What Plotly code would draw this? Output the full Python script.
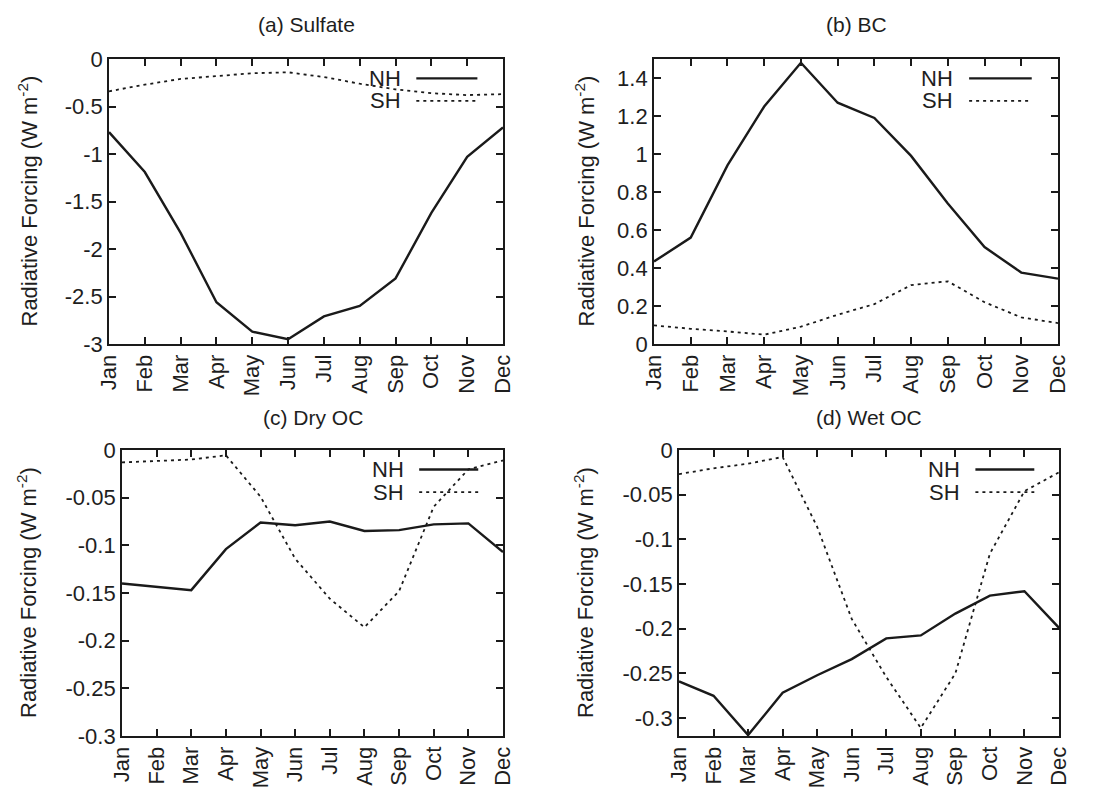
import plotly.graph_objects as go

months = ["Jan", "Feb", "Mar", "Apr", "May", "Jun", "Jul", "Aug", "Sep", "Oct", "Nov", "Dec"]

sulfate_nh = [-0.77, -1.19, -1.83, -2.56, -2.87, -2.95, -2.71, -2.60, -2.31, -1.62, -1.03, -0.72]
sulfate_sh = [-0.34, -0.27, -0.21, -0.18, -0.15, -0.14, -0.19, -0.26, -0.32, -0.36, -0.38, -0.37]

bc_nh = [0.434, 0.56, 0.94, 1.25, 1.48, 1.27, 1.19, 0.99, 0.74, 0.51, 0.376, 0.344]
bc_sh = [0.098, 0.08, 0.066, 0.049, 0.091, 0.154, 0.21, 0.31, 0.33, 0.22, 0.14, 0.11]

dryoc_nh = [-0.140, -0.1435, -0.147, -0.104, -0.076, -0.079, -0.075, -0.085, -0.084, -0.078, -0.077, -0.107]
dryoc_sh = [-0.013, -0.0115, -0.010, -0.0056, -0.049, -0.114, -0.156, -0.186, -0.148, -0.0595, -0.0203, -0.011]

wetoc_nh = [-0.259, -0.275, -0.319, -0.2716, -0.252, -0.234, -0.2108, -0.2075, -0.183, -0.163, -0.158, -0.199]
wetoc_sh = [-0.027, -0.0205, -0.0153, -0.0078, -0.086, -0.189, -0.254, -0.311, -0.250, -0.116, -0.046, -0.025]

titles = ["(a) Sulfate", "(b) BC", "(c) Dry OC", "(d) Wet OC"]

yticks_a = [0, -0.5, -1, -1.5, -2, -2.5, -3]
yticktext_a = ["0", "-0.5", "-1", "-1.5", "-2", "-2.5", "-3"]
yticks_b = [0, 0.2, 0.4, 0.6, 0.8, 1.0, 1.2, 1.4]
yticktext_b = ["0", "0.2", "0.4", "0.6", "0.8", "1", "1.2", "1.4"]
yticks_c = [0, -0.05, -0.1, -0.15, -0.2, -0.25, -0.3]
yticktext_c = ["0", "-0.05", "-0.1", "-0.15", "-0.2", "-0.25", "-0.3"]
yticks_d = [0, -0.05, -0.1, -0.15, -0.2, -0.25, -0.3]
yticktext_d = ["0", "-0.05", "-0.1", "-0.15", "-0.2", "-0.25", "-0.3"]

W, H = 1093, 787
FONT = "Liberation Sans, Arial, sans-serif"
FS = 21
TICK_FS = 22
TXT = "#1e1e1e"
SH_DASH = "3px,4px"

panels = [
    dict(nh=sulfate_nh, sh=sulfate_sh, yr=[-3, 0], tv=yticks_a, tt=yticktext_a,
         px=(109, 503), py=(59, 344), ytitle_x=27, title_y=25),
    dict(nh=bc_nh, sh=bc_sh, yr=[0, 1.5], tv=yticks_b, tt=yticktext_b,
         px=(654, 1058), py=(59, 344), ytitle_x=584, title_y=25),
    dict(nh=dryoc_nh, sh=dryoc_sh, yr=[-0.3, 0], tv=yticks_c, tt=yticktext_c,
         px=(122, 503), py=(450, 736), ytitle_x=27, title_y=417),
    dict(nh=wetoc_nh, sh=wetoc_sh, yr=[-0.32, 0], tv=yticks_d, tt=yticktext_d,
         px=(679, 1059), py=(450, 736), ytitle_x=584, title_y=417),
]

fig = go.Figure()
annotations = []
shapes = []
layout = {}

for i, p in enumerate(panels):
    n = "" if i == 0 else str(i + 1)
    xa, ya = "x" + n, "y" + n
    fig.add_trace(go.Scatter(x=months, y=p["nh"], mode="lines", xaxis=xa, yaxis=ya,
                             line=dict(color="#1a1a1a", width=2.4), showlegend=False))
    fig.add_trace(go.Scatter(x=months, y=p["sh"], mode="lines", xaxis=xa, yaxis=ya,
                             line=dict(color="#1a1a1a", width=1.8, dash=SH_DASH), showlegend=False))
    x0, x1 = p["px"]
    y0, y1 = p["py"]
    axis_common = dict(showline=True, linecolor="#1a1a1a", linewidth=1.8, mirror="allticks",
                       ticks="inside", ticklen=7, tickwidth=1.5, tickcolor="#1a1a1a",
                       showgrid=False, zeroline=False, automargin=False,
                       tickfont=dict(family=FONT, size=TICK_FS, color=TXT))
    layout["xaxis" + n] = dict(axis_common, domain=[x0 / W, x1 / W], anchor=ya,
                               type="category", range=[0, 11], tickangle=-90)
    layout["yaxis" + n] = dict(axis_common, domain=[1 - y1 / H, 1 - y0 / H], anchor=xa,
                               range=p["yr"], tickmode="array", tickvals=p["tv"], ticktext=p["tt"])
    # panel title
    annotations.append(dict(text=titles[i], xref=xa + " domain", x=0.5, yref="paper",
                            y=1 - p["title_y"] / H, showarrow=False, xanchor="center",
                            yanchor="middle", font=dict(family=FONT, size=FS, color=TXT)))
    # y-axis title
    annotations.append(dict(text="Radiative Forcing (W m<sup>-2</sup>)", xref="paper",
                            x=p["ytitle_x"] / W, yref=ya + " domain", y=0.5, textangle=-90,
                            showarrow=False, xanchor="center", yanchor="middle",
                            font=dict(family=FONT, size=FS + 1, color=TXT)))
    # legend
    for lab, yy, dash, wd in [("NH", 0.932, "solid", 2.4), ("SH", 0.853, SH_DASH, 1.8)]:
        annotations.append(dict(text=lab, xref=xa + " domain", x=0.745, yref=ya + " domain",
                                y=yy, showarrow=False, xanchor="right", yanchor="middle",
                                font=dict(family=FONT, size=FS + 1, color=TXT)))
        shapes.append(dict(type="line", xref=xa + " domain", yref=ya + " domain",
                           x0=0.78, x1=0.935, y0=yy, y1=yy,
                           line=dict(color="#1a1a1a", width=wd, dash=dash)))

fig.update_layout(**layout)
fig.update_layout(width=W, height=H, margin=dict(l=0, r=0, t=0, b=0, autoexpand=False),
                  paper_bgcolor="white", plot_bgcolor="white",
                  annotations=annotations, shapes=shapes,
                  font=dict(family=FONT, size=FS, color=TXT))

fig.write_html("out.html")
